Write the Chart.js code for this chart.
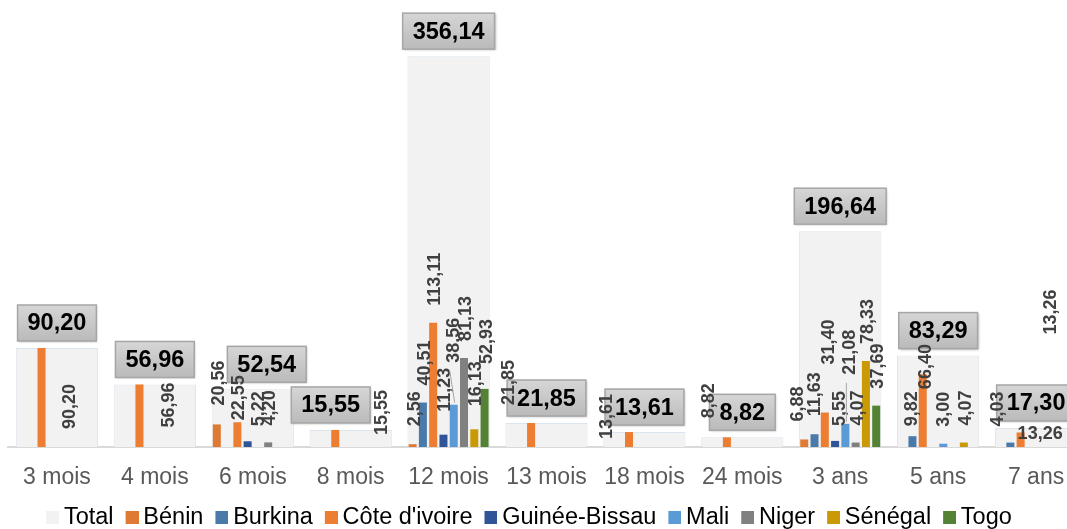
<!DOCTYPE html>
<html><head><meta charset="utf-8">
<script src="https://cdn.jsdelivr.net/npm/chart.js@4"></script>
<style>
html,body{margin:0;padding:0;background:#fff;overflow:hidden;width:1067px;height:529px;}
#wrap{position:absolute;left:-25px;top:0;width:1110px;height:529px;}
</style></head><body>
<div id="wrap"><canvas id="c" width="1110" height="529"></canvas></div>
<script>
const categories = ['3 mois','4 mois','6 mois','8 mois','12 mois','13 mois','18 mois','24 mois','3 ans','5 ans','7 ans'];
const total        = [90.20, 56.96, 52.54, 15.55, 356.14, 21.85, 13.61, 8.82, 196.64, 83.29, 17.30];
const benin        = [null, null, 20.56, null, 2.56, null, null, null, 6.88, null, null];
const burkina      = [null, null, null, null, 40.51, null, null, null, 11.63, 9.82, 4.03];
const coteIvoire   = [90.20, 56.96, 22.55, 15.55, 113.11, 21.85, 13.61, 8.82, 31.40, 66.40, 13.26];
const guineeBissau = [null, null, 5.22, null, 11.23, null, null, null, 5.55, null, null];
const mali         = [null, null, null, null, 38.56, null, null, null, 21.08, 3.00, null];
const niger        = [null, null, 4.20, null, 81.13, null, null, null, 4.07, null, null];
const senegal      = [null, null, null, null, 16.13, null, null, null, 78.33, 4.07, null];
const togo         = [null, null, null, null, 52.93, null, null, null, 37.69, null, null];

const seriesNames  = ['Bénin','Burkina',"Côte d'ivoire",'Guinée-Bissau','Mali','Niger','Sénégal','Togo'];
const seriesValues = [benin, burkina, coteIvoire, guineeBissau, mali, niger, senegal, togo];
const seriesColors = ['#DE7A33','#4A7AAA','#ED7D31','#2F5597','#5B9BD5','#808080','#C99A06','#548235'];

const FONT = "'Liberation Sans', Arial, sans-serif";
const fmt = v => v.toFixed(2).replace('.', ',');

// label placement tweaks (series index-category index): dx, gap above bar top
const labelTweaks = {
  '2-0': {dx: 27, gap: -81}, '2-1': {dx: 29, gap: -43}, '2-3': {dx: 46, gap: -5},
  '2-2': {gap: 2}, '3-2': {dx: 10, gap: 15}, '0-2': {gap: 19},
  '0-4': {gap: 18}, '3-4': {gap: 23}, '4-4': {dx: -1, gap: 42, leader: true},
  '6-4': {gap: 23}, '7-4': {gap: 25},
  '2-5': {dx: -23, gap: 18}, '2-6': {dx: -23, gap: -7}, '2-7': {dx: -19, gap: 19},
  '0-8': {dx: -7, gap: 18}, '1-8': {dx: 0, gap: 18}, '2-8': {dx: 3, gap: 48},
  '3-8': {dx: 4, gap: 15}, '4-8': {dx: 4, gap: 49, leader: true},
  '1-9': {dx: -1, gap: 10}, '2-9': {dx: 2, gap: -15}, '4-9': {dx: 0},
  '1-10': {dx: -13, gap: 16}, '2-10': {horizontal: true, dx: -3, dy: 2, extra: {dx: 29, gap: 98}}
};
const boxTweaks = { 2: 14, 3: -20 };

const labelPlugin = {
  id: 'labels',
  afterDatasetsDraw(chart) {
    const ctx = chart.ctx;
    const tMeta = chart.getDatasetMeta(0);
    ctx.save();
    ctx.font = 'bold 23.5px ' + FONT;
    tMeta.data.forEach((bar, i) => {
      const txt = fmt(total[i]);
      const w = ctx.measureText(txt).width + 20;
      const h = 36;
      const cx = bar.x + (boxTweaks[i] || 0);
      const bottom = bar.y - 7;
      const x0 = cx - w / 2, y0 = bottom - h;
      const g = ctx.createLinearGradient(0, y0, 0, y0 + h);
      g.addColorStop(0, '#D6D6D6');
      g.addColorStop(1, '#BABABA');
      ctx.shadowColor = 'rgba(0,0,0,0.25)';
      ctx.shadowBlur = 2; ctx.shadowOffsetX = 1; ctx.shadowOffsetY = 1;
      ctx.fillStyle = g;
      ctx.fillRect(x0, y0, w, h);
      ctx.shadowColor = 'transparent';
      ctx.strokeStyle = '#A6A6A6';
      ctx.lineWidth = 1.5;
      ctx.strokeRect(x0, y0, w, h);
      ctx.fillStyle = '#000';
      ctx.textAlign = 'center';
      ctx.textBaseline = 'middle';
      ctx.fillText(txt, cx, y0 + h / 2 + 1);
    });
    ctx.restore();
    ctx.save();
    ctx.font = 'bold 18px ' + FONT;
    ctx.fillStyle = '#404040';
    for (let s = 0; s < seriesValues.length; s++) {
      const meta = chart.getDatasetMeta(s + 1);
      seriesValues[s].forEach((v, i) => {
        if (v === null) return;
        const bar = meta.data[i];
        const t = labelTweaks[s + '-' + i] || {};
        const txt = fmt(v);
        if (t.horizontal) {
          ctx.textAlign = 'left'; ctx.textBaseline = 'middle';
          ctx.fillText(txt, bar.x + (t.dx || 0), bar.y + (t.dy || 0));
        } else {
          drawRot(ctx, txt, bar.x + (t.dx !== undefined ? t.dx : 1), bar.y - (t.gap !== undefined ? t.gap : 17));
        }
        if (t.extra) {
          drawRot(ctx, txt, bar.x + t.extra.dx, bar.y - t.extra.gap);
        }
        if (t.leader) {
          const lx = bar.x + (t.dx || 0);
          const ly = bar.y - t.gap;
          ctx.save();
          ctx.strokeStyle = '#A6A6A6'; ctx.lineWidth = 1;
          ctx.beginPath();
          ctx.moveTo(lx - 3, ly + 8);
          ctx.lineTo(bar.x + 1, bar.y - 2);
          ctx.stroke();
          ctx.restore();
        }
      });
    }
    ctx.restore();
  }
};
function drawRot(ctx, txt, x, yBottom) {
  ctx.save();
  ctx.translate(x, yBottom);
  ctx.rotate(-Math.PI / 2);
  ctx.textAlign = 'left';
  ctx.textBaseline = 'middle';
  ctx.fillText(txt, 0, 1);
  ctx.restore();
}

// legend marker: square shifted right so it sits close to its text
function legendMarker(color) {
  const c = document.createElement('canvas');
  c.width = 27; c.height = 13;
  const g = c.getContext('2d');
  g.fillStyle = color;
  g.fillRect(14, 0, 13, 13);
  return c;
}

const layoutPlugin = {
  id: 'layoutFix',
  beforeUpdate(chart) {
    const lg = chart.legend;
    if (lg && !lg._patched) {
      const f = lg.fit.bind(lg);
      lg.fit = function () { f(); this.height = 28; };
      lg._patched = true;
    }
  },
  afterLayout(chart) {
    const lg = chart.legend;
    if (lg) { lg.left -= 21; lg.right -= 21; }
  }
};

const datasets = [{
  label: 'Total',
  data: total,
  order: 1,
  grouped: false,
  backgroundColor: '#F2F2F2',
  borderColor: '#DCE4EE',
  borderWidth: 1,
  barPercentage: 0.84,
  categoryPercentage: 1
}];
seriesNames.forEach((n, k) => datasets.push({
  label: n,
  data: seriesValues[k],
  order: 0,
  backgroundColor: seriesColors[k],
  borderWidth: 0,
  barPercentage: 0.78,
  categoryPercentage: 0.84
}));

new Chart(document.getElementById('c'), {
  type: 'bar',
  data: { labels: categories, datasets },
  options: {
    responsive: false,
    animation: false,
    devicePixelRatio: 1,
    layout: { padding: { top: 8, left: 33, right: 0, bottom: 0 } },
    scales: {
      x: {
        offset: true,
        grid: { display: false, drawTicks: false },
        border: { display: true, color: '#D9D9D9', width: 2 },
        ticks: { color: '#595959', font: { family: FONT, size: 23 }, padding: 17, maxRotation: 0, autoSkip: false },
        afterFit(s) { s.height = 54; }
      },
      y: { display: false, min: 0, max: 400 }
    },
    plugins: {
      tooltip: { enabled: false },
      legend: {
        position: 'bottom',
        labels: {
          color: '#000',
          font: { family: FONT, size: 23.5 },
          boxWidth: 13, boxHeight: 13, padding: 5,
          usePointStyle: true,
          sort: (a, b) => a.datasetIndex - b.datasetIndex,
          generateLabels(chart) {
            const items = Chart.defaults.plugins.legend.labels.generateLabels(chart);
            items.forEach(it => {
              const ds = chart.data.datasets[it.datasetIndex];
              it.pointStyle = legendMarker(ds.backgroundColor);
              it.lineWidth = 0;
            });
            return items;
          }
        }
      }
    }
  },
  plugins: [labelPlugin, layoutPlugin]
});
</script>
</body></html>
